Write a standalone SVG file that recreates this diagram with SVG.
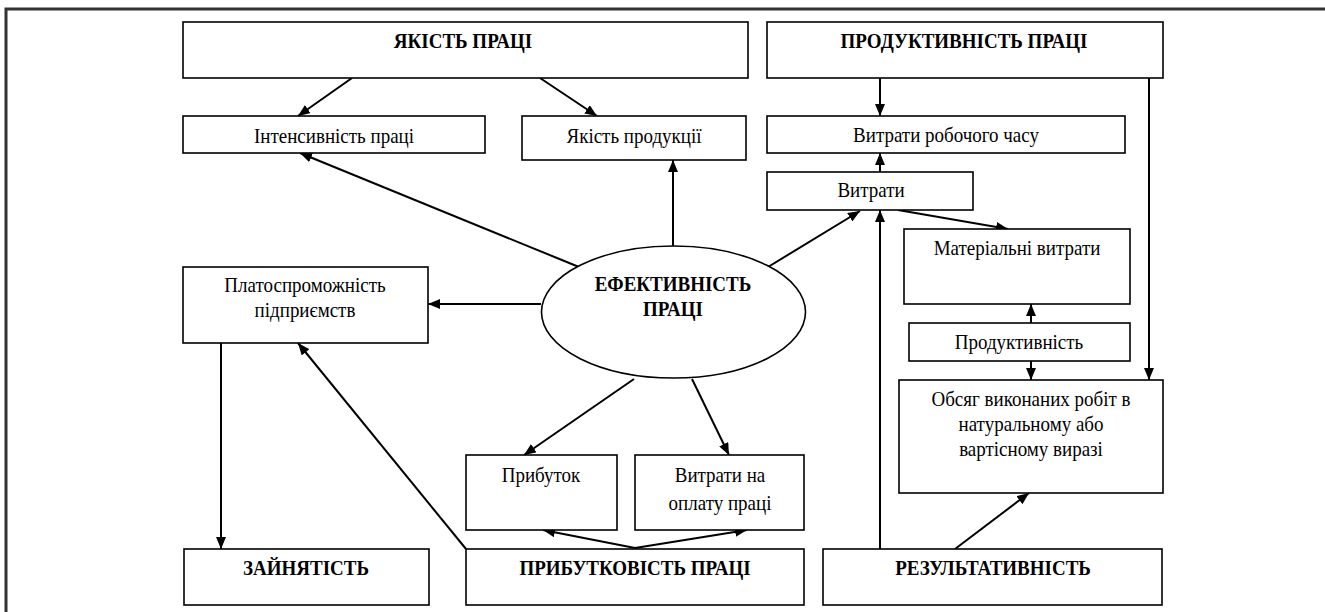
<svg xmlns="http://www.w3.org/2000/svg" width="1325" height="612" viewBox="0 0 1325 612">
<style>
.box{fill:#fff;stroke:#000;stroke-width:1.6}
.t{font-family:'Liberation Serif','Times New Roman',serif;font-size:19px;fill:#000;text-anchor:middle}
.b{font-family:'Liberation Serif','Times New Roman',serif;font-size:19px;font-weight:bold;fill:#000;text-anchor:middle}
.c{stroke:#000;stroke-width:2;fill:none;marker-end:url(#ah)}
</style>
<defs>
<marker id="ah" markerUnits="userSpaceOnUse" markerWidth="13" markerHeight="10" refX="12" refY="5" orient="auto">
<path d="M0,0 L12,5 L0,10 z" fill="#000"/>
</marker>
</defs>
<rect width="1325" height="612" fill="#fff"/>
<rect x="6" y="9" width="1340" height="640" fill="none" stroke="#333" stroke-width="3"/>

<g id="connectors">
<line class="c" x1="352" y1="78" x2="298" y2="116"/>
<line class="c" x1="540" y1="78" x2="597" y2="116"/>
<line class="c" x1="579" y1="267" x2="300" y2="153"/>
<line class="c" x1="673" y1="246" x2="673" y2="160"/>
<line class="c" x1="768" y1="267" x2="860" y2="211"/>
<line class="c" x1="541" y1="304" x2="428" y2="304"/>
<line class="c" x1="634" y1="379" x2="524" y2="455"/>
<line class="c" x1="692" y1="379" x2="729" y2="455"/>
<line class="c" x1="880" y1="78" x2="880" y2="116"/>
<line class="c" x1="880" y1="172" x2="880" y2="153"/>
<line class="c" x1="1149" y1="78" x2="1149" y2="380"/>
<line class="c" x1="898" y1="210" x2="1008" y2="229"/>
<line class="c" x1="1031" y1="323" x2="1031" y2="304"/>
<line class="c" x1="1031" y1="361" x2="1031" y2="380"/>
<line class="c" x1="880" y1="549" x2="880" y2="210"/>
<line class="c" x1="955" y1="549" x2="1029" y2="493"/>
<line class="c" x1="221" y1="343" x2="221" y2="549"/>
<line class="c" x1="466" y1="549" x2="298" y2="343"/>
<line class="c" x1="635" y1="548" x2="543" y2="530"/>
<line class="c" x1="635" y1="548" x2="747" y2="530"/>
</g>

<g id="yakist-pratsi"><rect class="box" x="183" y="22" width="565" height="56"/><text class="b" transform="translate(463,48) scale(1,1.05)">ЯКІСТЬ ПРАЦІ</text></g>
<g id="produktyvnist-pratsi"><rect class="box" x="767" y="22" width="396" height="56"/><text class="b" transform="translate(964,48) scale(1,1.05)">ПРОДУКТИВНІСТЬ ПРАЦІ</text></g>
<g id="intensyvnist"><rect class="box" x="183" y="116" width="302" height="37"/><text class="t" transform="translate(334,143) scale(1,1.12)">Інтенсивність праці</text></g>
<g id="yakist-produktsii"><rect class="box" x="522" y="116" width="224" height="44"/><text class="t" transform="translate(634,143) scale(1,1.12)">Якість продукції</text></g>
<g id="vytraty-chasu"><rect class="box" x="767" y="116" width="358" height="37"/><text class="t" transform="translate(946,142) scale(1,1.12)">Витрати робочого часу</text></g>
<g id="vytraty"><rect class="box" x="767" y="172" width="206" height="38"/><text class="t" transform="translate(871,197) scale(1,1.12)">Витрати</text></g>
<g id="materialni"><rect class="box" x="904" y="229" width="226" height="75"/><text class="t" transform="translate(1017,255) scale(1,1.12)">Матеріальні витрати</text></g>
<g id="produktyvnist"><rect class="box" x="909" y="323" width="221" height="38"/><text class="t" transform="translate(1019,349) scale(1,1.12)">Продуктивність</text></g>
<g id="obsyag"><rect class="box" x="899" y="380" width="264" height="113"/><text class="t" transform="translate(1031,406) scale(1,1.12)">Обсяг виконаних робіт в</text><text class="t" transform="translate(1031,431) scale(1,1.12)">натуральному або</text><text class="t" transform="translate(1031,456) scale(1,1.12)">вартісному виразі</text></g>
<g id="efektyvnist"><ellipse cx="673.5" cy="312" rx="132" ry="66" fill="#fff" stroke="#000" stroke-width="1.6"/><text class="b" transform="translate(673,291) scale(1,1.05)">ЕФЕКТИВНІСТЬ</text><text class="b" transform="translate(673,316) scale(1,1.05)">ПРАЦІ</text></g>
<g id="platospromozhnist"><rect class="box" x="183" y="267" width="245" height="76"/><text class="t" transform="translate(305,292) scale(1,1.12)">Платоспроможність</text><text class="t" transform="translate(305,317) scale(1,1.12)">підприємств</text></g>
<g id="prybutok"><rect class="box" x="466" y="455" width="151" height="75"/><text class="t" transform="translate(541,482) scale(1,1.12)">Прибуток</text></g>
<g id="vytraty-oplata"><rect class="box" x="635" y="455" width="169" height="75"/><text class="t" transform="translate(720,482) scale(1,1.12)">Витрати на</text><text class="t" transform="translate(720,510) scale(1,1.12)">оплату праці</text></g>
<g id="zainiatist"><rect class="box" x="184" y="549" width="245" height="56"/><text class="b" transform="translate(306,575) scale(1,1.05)">ЗАЙНЯТІСТЬ</text></g>
<g id="prybutkovist"><rect class="box" x="466" y="549" width="338" height="56"/><text class="b" transform="translate(635,575) scale(1,1.05)">ПРИБУТКОВІСТЬ ПРАЦІ</text></g>
<g id="rezultatyvnist"><rect class="box" x="823" y="549" width="339" height="56"/><text class="b" transform="translate(993,575) scale(1,1.05)">РЕЗУЛЬТАТИВНІСТЬ</text></g>
</svg>
